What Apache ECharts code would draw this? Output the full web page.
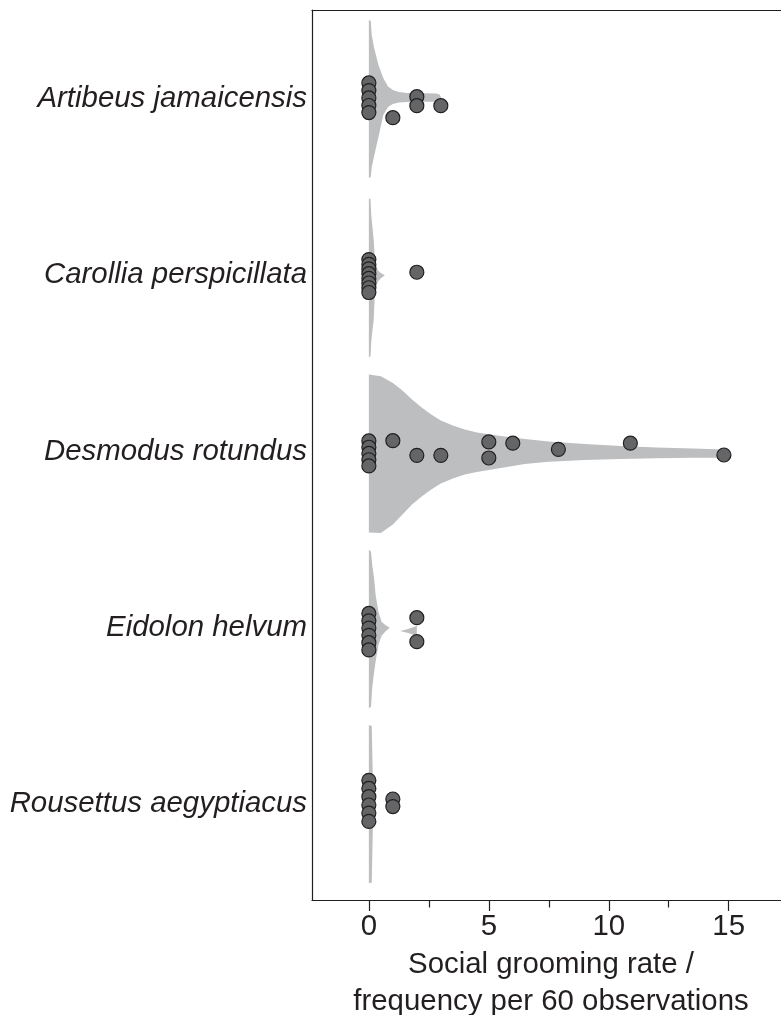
<!DOCTYPE html>
<html><head><meta charset="utf-8">
<script src="https://cdn.jsdelivr.net/npm/echarts@6/dist/echarts.min.js"></script>
<style>html,body{margin:0;padding:0;background:#fff}#chart{width:781px;height:1015px}</style>
</head><body><div id="chart"></div><script>
// ---- data ----
const categories = ['Artibeus jamaicensis', 'Carollia perspicillata', 'Desmodus rotundus', 'Eidolon helvum', 'Rousettus aegyptiacus'];
const xMajorTicks = [0, 5, 10, 15];
const xMinorTicks = [2.5, 7.5, 12.5];
const xAxisTitle = 'Social grooming rate /\nfrequency per 60 observations';

// individual rates (x) and vertical swarm offsets (in category units)
const artibeusRates  = [0, 0, 0, 0, 0, 1, 2, 2, 3];
const artibeusJitter = [-0.091, -0.048, -0.006, 0.037, 0.077, 0.106, -0.013, 0.038, 0.038];
const carolliaRates  = [0, 0, 0, 0, 0, 0, 0, 0, 2];
const carolliaJitter = [-0.089, -0.062, -0.036, -0.009, 0.018, 0.044, 0.071, 0.098, -0.017];
const desmodusRates  = [0, 0, 0, 0, 0, 1, 2, 3, 5, 5, 6, 7.9, 10.9, 14.8];
const desmodusJitter = [-0.060, -0.024, 0.011, 0.047, 0.082, -0.061, 0.022, 0.022, -0.054, 0.037, -0.047, -0.012, -0.047, 0.020];
const eidolonRates   = [0, 0, 0, 0, 0, 0, 2, 2];
const eidolonJitter  = [-0.081, -0.039, 0.002, 0.043, 0.085, 0.126, -0.057, 0.079];
const rousettusRates = [0, 0, 0, 0, 0, 0, 1, 1];
const rousettusJitter= [-0.134, -0.088, -0.041, 0.006, 0.052, 0.099, -0.028, 0.015];

// violin outlines: rate values and half-widths above / below centre (category units)
const artibeusViolinX  = [0, 0.08, 0.12, 0.22, 0.4, 0.6, 0.8, 1.0, 1.25, 1.6, 2.0, 2.4, 2.8, 2.95, 3.02];
const artibeusViolinUp = [0.448, 0.443, 0.363, 0.289, 0.193, 0.119, 0.071, 0.051, 0.040, 0.034, 0.033, 0.033, 0.031, 0.026, 0.006];
const artibeusViolinLo = [0.448, 0.443, 0.386, 0.323, 0.216, 0.091, 0.045, 0.028, 0.020, 0.017, 0.016, 0.016, 0.016, 0.011, 0.003];
const carolliaViolinX  = [0, 0.07, 0.1, 0.15, 0.2, 0.25, 0.37, 0.5, 0.67];
const carolliaViolinUp = [0.437, 0.431, 0.340, 0.272, 0.204, 0.085, 0.028, 0.012, 0];
const carolliaViolinLo = [0.465, 0.460, 0.374, 0.312, 0.255, 0.102, 0.037, 0.017, 0];
const desmodusViolinX  = [0, 0.5, 1.0, 1.4, 1.8, 2.2, 2.6, 3.0, 3.5, 4.0, 4.5, 5.5, 6.5, 7.5, 9, 10.5, 12, 13.5, 14.5, 14.9];
const desmodusViolinUp = [0.437, 0.427, 0.389, 0.346, 0.295, 0.250, 0.210, 0.176, 0.148, 0.125, 0.108, 0.088, 0.071, 0.057, 0.043, 0.031, 0.023, 0.017, 0.013, 0.006];
const desmodusViolinLo = [0.460, 0.462, 0.414, 0.357, 0.301, 0.255, 0.216, 0.182, 0.153, 0.130, 0.116, 0.094, 0.071, 0.058, 0.048, 0.043, 0.039, 0.035, 0.035, 0.017];
const eidolonViolinX   = [0, 0.09, 0.14, 0.22, 0.28, 0.4, 0.53, 0.7, 0.875, 1.3, 1.6, 1.85, 2.0];
const eidolonViolinUp  = [0.443, 0.431, 0.357, 0.278, 0.187, 0.091, 0.034, 0.014, 0, -0.018, -0.009, 0.003, 0.011];
const eidolonViolinLo  = [0.457, 0.448, 0.340, 0.250, 0.193, 0.096, 0.045, 0.020, 0, 0.018, 0.028, 0.040, 0.048];
const rousettusViolinX = [0, 0.12, 0.14, 0.17, 0.19];
const rousettusViolinUp= [0.448, 0.443, 0.312, 0.113, 0];
const rousettusViolinLo= [0.450, 0.445, 0.312, 0.113, 0];

// ---- build ----
const groups = [
  {rates: artibeusRates, jitter: artibeusJitter, vx: artibeusViolinX, up: artibeusViolinUp, lo: artibeusViolinLo},
  {rates: carolliaRates, jitter: carolliaJitter, vx: carolliaViolinX, up: carolliaViolinUp, lo: carolliaViolinLo},
  {rates: desmodusRates, jitter: desmodusJitter, vx: desmodusViolinX, up: desmodusViolinUp, lo: desmodusViolinLo},
  {rates: eidolonRates, jitter: eidolonJitter, vx: eidolonViolinX, up: eidolonViolinUp, lo: eidolonViolinLo},
  {rates: rousettusRates, jitter: rousettusJitter, vx: rousettusViolinX, up: rousettusViolinUp, lo: rousettusViolinLo}
];
const points = [];
groups.forEach((g, ci) => g.rates.forEach((r, k) => points.push([r, ci + g.jitter[k]])));

const FONT = '"Liberation Sans", Arial, Helvetica, sans-serif';
const INK = '#231f20';

const chart = echarts.init(document.getElementById('chart'), null, {renderer: 'canvas'});
const xBase = {type: 'value', min: -2.37, max: 17.18, splitLine: {show: false}};
chart.setOption({
  animation: false,
  backgroundColor: '#ffffff',
  grid: {left: 312, right: 0, top: 10, bottom: 115, containLabel: false, outerBoundsMode: 'none'},
  xAxis: [
    Object.assign({}, xBase, {
      position: 'bottom',
      axisLine: {show: true, onZero: false, lineStyle: {color: INK, width: 1.2}},
      axisTick: {show: true, inside: false, length: 11, customValues: xMajorTicks, lineStyle: {color: INK, width: 1.2}},
      axisLabel: {show: true, customValues: xMajorTicks, margin: 12, color: INK, fontSize: 29.4, fontFamily: FONT},
      name: xAxisTitle, nameLocation: 'middle', nameGap: 46,
      nameTextStyle: {color: INK, fontSize: 29.4, fontFamily: FONT, lineHeight: 37, padding: [0, 0, 0, 9]}
    }),
    Object.assign({}, xBase, {
      position: 'bottom',
      axisLine: {show: false, onZero: false},
      axisTick: {show: true, inside: false, length: 7.5, customValues: xMinorTicks, lineStyle: {color: INK, width: 1.2}},
      axisLabel: {show: false}
    }),
    Object.assign({}, xBase, {
      position: 'top',
      axisLine: {show: true, onZero: false, lineStyle: {color: INK, width: 1.2}},
      axisTick: {show: false}, axisLabel: {show: false}
    })
  ],
  yAxis: {
    type: 'value', inverse: true, min: -0.505, max: 4.545,
    splitLine: {show: false},
    axisLine: {show: true, onZero: false, lineStyle: {color: INK, width: 1.2}},
    axisTick: {show: false},
    axisLabel: {
      show: true, customValues: [0, 1, 2, 3, 4], margin: 5,
      formatter: v => categories[Math.round(v)] || '',
      color: INK, fontSize: 29.4, fontStyle: 'italic', fontFamily: FONT
    }
  },
  series: [
    {
      type: 'custom', xAxisIndex: 0, silent: true, z: 1,
      data: groups.map((g, i) => [0, i]),
      renderItem: function (params, api) {
        const g = groups[params.dataIndex];
        const c = api.value(1);
        const pts = [];
        for (let k = 0; k < g.vx.length; k++) pts.push(api.coord([g.vx[k], c - g.up[k]]));
        for (let k = g.vx.length - 1; k >= 0; k--) pts.push(api.coord([g.vx[k], c + g.lo[k]]));
        return {type: 'polygon', shape: {points: pts}, style: {fill: '#bcbec0', stroke: null}};
      }
    },
    {
      type: 'scatter', xAxisIndex: 0, silent: true, z: 2,
      data: points, symbol: 'circle', symbolSize: 14,
      itemStyle: {color: '#646567', borderColor: INK, borderWidth: 1.2, opacity: 1}
    }
  ]
});
</script></body></html>
